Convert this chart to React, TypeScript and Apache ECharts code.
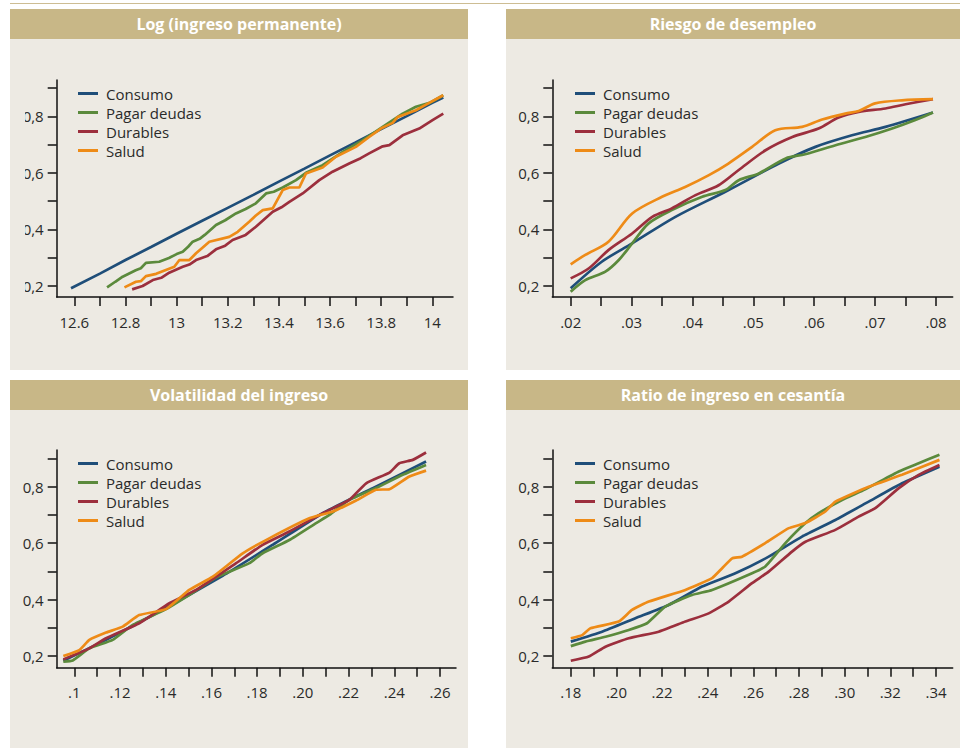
import { useEffect, useRef } from "react";
import * as echarts from "echarts";

type Pt = [number, number];

const seriesNames = ["Consumo", "Pagar deudas", "Durables", "Salud"];
const seriesColors = ["#1f4e79", "#5b8a3c", "#9c2f3d", "#ee8b17"];
const panelTitles = [
  "Log (ingreso permanente)",
  "Riesgo de desempleo",
  "Volatilidad del ingreso",
  "Ratio de ingreso en cesantía",
];

// Shared y axis
const yTicks = [0.2, 0.3, 0.4, 0.5, 0.6, 0.7, 0.8, 0.9];
const yLabelValues = [0.2, 0.4, 0.6, 0.8];
const yLabels = ["0,2", "0,4", "0,6", "0,8"];

// Panel 1: Log (ingreso permanente)
const p1XTicks = [12.6, 12.7, 12.8, 12.9, 13, 13.1, 13.2, 13.3, 13.4, 13.5, 13.6, 13.7, 13.8, 13.9, 14];
const p1XLabelValues = [12.6, 12.8, 13, 13.2, 13.4, 13.6, 13.8, 14];
const p1XLabels = ["12.6", "12.8", "13", "13.2", "13.4", "13.6", "13.8", "14"];
const p1Consumo: Pt[] = [
  [12.587, 0.191], [12.7, 0.243], [12.8, 0.291], [12.9, 0.337], [13.0, 0.384], [13.1, 0.43],
  [13.2, 0.476], [13.3, 0.522], [13.4, 0.569], [13.5, 0.615], [13.6, 0.662], [13.7, 0.708],
  [13.8, 0.755], [13.9, 0.801], [14.0, 0.848], [14.043, 0.867],
];
const p1Pagar: Pt[] = [
  [12.728, 0.194], [12.76, 0.214], [12.789, 0.232], [12.84, 0.255], [12.86, 0.262], [12.88, 0.281],
  [12.932, 0.285], [12.97, 0.298], [13.0, 0.312], [13.024, 0.32], [13.045, 0.338], [13.063, 0.356],
  [13.09, 0.366], [13.11, 0.38], [13.154, 0.415], [13.19, 0.432], [13.232, 0.456], [13.27, 0.472],
  [13.31, 0.492], [13.35, 0.527], [13.38, 0.533], [13.415, 0.548], [13.467, 0.574], [13.506, 0.6],
  [13.571, 0.627], [13.65, 0.674], [13.728, 0.716], [13.806, 0.763], [13.884, 0.81], [13.936, 0.834],
  [13.99, 0.848], [14.043, 0.875],
];
const p1Durables: Pt[] = [
  [12.826, 0.187], [12.867, 0.199], [12.907, 0.22], [12.94, 0.228], [12.971, 0.246], [13.024, 0.267],
  [13.05, 0.275], [13.076, 0.291], [13.12, 0.305], [13.154, 0.329], [13.19, 0.342], [13.219, 0.362],
  [13.27, 0.38], [13.31, 0.409], [13.376, 0.462], [13.41, 0.478], [13.441, 0.497], [13.493, 0.527],
  [13.558, 0.574], [13.61, 0.604], [13.675, 0.633], [13.72, 0.652], [13.753, 0.669], [13.806, 0.694],
  [13.832, 0.698], [13.884, 0.733], [13.949, 0.757], [14.001, 0.787], [14.043, 0.81],
];
const p1Salud: Pt[] = [
  [12.796, 0.194], [12.841, 0.214], [12.86, 0.216], [12.88, 0.234], [12.92, 0.242], [12.958, 0.256],
  [12.991, 0.267], [13.011, 0.291], [13.05, 0.291], [13.076, 0.315], [13.1, 0.334], [13.128, 0.356],
  [13.206, 0.373], [13.239, 0.391], [13.284, 0.427], [13.31, 0.449], [13.337, 0.468], [13.376, 0.474],
  [13.415, 0.539], [13.441, 0.548], [13.48, 0.548], [13.506, 0.598], [13.571, 0.619], [13.623, 0.657],
  [13.701, 0.692], [13.753, 0.727], [13.799, 0.757], [13.845, 0.777], [13.865, 0.798], [13.936, 0.822],
  [13.988, 0.848], [14.043, 0.875],
];

// Panel 2: Riesgo de desempleo
const p2XTicks = [0.02, 0.025, 0.03, 0.035, 0.04, 0.045, 0.05, 0.055, 0.06, 0.065, 0.07, 0.075, 0.08];
const p2XLabelValues = [0.02, 0.03, 0.04, 0.05, 0.06, 0.07, 0.08];
const p2XLabels = [".02", ".03", ".04", ".05", ".06", ".07", ".08"];
const p2Consumo: Pt[] = [
  [0.02, 0.191], [0.0251, 0.285], [0.0301, 0.35], [0.0372, 0.444], [0.0454, 0.533], [0.0542, 0.633],
  [0.0602, 0.692], [0.0662, 0.733], [0.0717, 0.763], [0.0795, 0.814],
];
const p2Pagar: Pt[] = [
  [0.02, 0.179], [0.0224, 0.22], [0.0257, 0.25], [0.0279, 0.291], [0.0301, 0.35], [0.0328, 0.421],
  [0.0366, 0.468], [0.0416, 0.515], [0.0454, 0.539], [0.0476, 0.574], [0.0509, 0.598], [0.0553, 0.651],
  [0.0585, 0.666], [0.0635, 0.698], [0.0684, 0.727], [0.0728, 0.757], [0.0766, 0.787], [0.0795, 0.814],
];
const p2Durables: Pt[] = [
  [0.02, 0.226], [0.023, 0.262], [0.0262, 0.326], [0.0301, 0.385], [0.0334, 0.444], [0.0366, 0.474],
  [0.0405, 0.521], [0.0443, 0.556], [0.0476, 0.61], [0.052, 0.68], [0.0564, 0.727], [0.0607, 0.757],
  [0.064, 0.796], [0.0673, 0.816], [0.0717, 0.828], [0.075, 0.843], [0.0795, 0.861],
];
const p2Salud: Pt[] = [
  [0.02, 0.276], [0.0224, 0.309], [0.0262, 0.356], [0.0301, 0.456], [0.035, 0.515], [0.0388, 0.55],
  [0.0427, 0.592], [0.0459, 0.633], [0.0498, 0.692], [0.0536, 0.751], [0.058, 0.763], [0.0613, 0.789],
  [0.0651, 0.81], [0.0673, 0.819], [0.07, 0.846], [0.0744, 0.857], [0.0795, 0.861],
];

// Panel 3: Volatilidad del ingreso
const p3XTicks = [0.1, 0.11, 0.12, 0.13, 0.14, 0.15, 0.16, 0.17, 0.18, 0.19, 0.2, 0.21, 0.22, 0.23, 0.24, 0.25, 0.26];
const p3XLabelValues = [0.1, 0.12, 0.14, 0.16, 0.18, 0.2, 0.22, 0.24, 0.26];
const p3XLabels = [".1", ".12", ".14", ".16", ".18", ".20", ".22", ".24", ".26"];
const p3Consumo: Pt[] = [
  [0.0952, 0.183], [0.1139, 0.257], [0.1358, 0.351], [0.1649, 0.484], [0.1868, 0.594],
  [0.2087, 0.706], [0.2306, 0.795], [0.2539, 0.889],
];
const p3Pagar: Pt[] = [
  [0.0952, 0.18], [0.0993, 0.184], [0.1066, 0.227], [0.1168, 0.257], [0.1256, 0.31], [0.1401, 0.366],
  [0.1533, 0.432], [0.162, 0.478], [0.1766, 0.529], [0.1824, 0.564], [0.1941, 0.611], [0.2058, 0.671],
  [0.2116, 0.7], [0.2203, 0.753], [0.232, 0.795], [0.2437, 0.842], [0.2539, 0.877],
];
const p3Durables: Pt[] = [
  [0.0952, 0.188], [0.1066, 0.227], [0.1139, 0.263], [0.1284, 0.316], [0.1416, 0.387], [0.1533, 0.434],
  [0.1708, 0.529], [0.1824, 0.594], [0.1941, 0.641], [0.2087, 0.706], [0.2203, 0.753], [0.2277, 0.812],
  [0.2379, 0.85], [0.2422, 0.883], [0.2481, 0.895], [0.2539, 0.921],
];
const p3Salud: Pt[] = [
  [0.0952, 0.2], [0.1022, 0.221], [0.1066, 0.257], [0.1139, 0.283], [0.1212, 0.304], [0.1284, 0.345],
  [0.1401, 0.366], [0.1503, 0.434], [0.1606, 0.481], [0.1737, 0.564], [0.1853, 0.617], [0.2028, 0.688],
  [0.2131, 0.712], [0.2233, 0.751], [0.232, 0.789], [0.2379, 0.791], [0.2466, 0.836], [0.2539, 0.857],
];

// Panel 4: Ratio de ingreso en cesantía
const p4XTicks = [0.18, 0.19, 0.2, 0.21, 0.22, 0.23, 0.24, 0.25, 0.26, 0.27, 0.28, 0.29, 0.3, 0.31, 0.32, 0.33, 0.34];
const p4XLabelValues = [0.18, 0.2, 0.22, 0.24, 0.26, 0.28, 0.3, 0.32, 0.34];
const p4XLabels = [".18", ".20", ".22", ".24", ".26", ".28", ".30", ".32", ".34"];
const p4Consumo: Pt[] = [
  [0.18, 0.251], [0.1937, 0.286], [0.2083, 0.334], [0.2229, 0.381], [0.2375, 0.446], [0.2521, 0.493],
  [0.2667, 0.552], [0.2813, 0.623], [0.2959, 0.682], [0.3105, 0.747], [0.3251, 0.812], [0.3415, 0.871],
];
const p4Pagar: Pt[] = [
  [0.18, 0.235], [0.1864, 0.251], [0.1952, 0.268], [0.2054, 0.292], [0.2134, 0.316], [0.2214, 0.375],
  [0.2331, 0.416], [0.2419, 0.434], [0.2594, 0.493], [0.2652, 0.517], [0.274, 0.6], [0.2828, 0.671],
  [0.2886, 0.706], [0.2988, 0.753], [0.309, 0.791], [0.3237, 0.854], [0.3324, 0.883], [0.3415, 0.913],
];
const p4Durables: Pt[] = [
  [0.18, 0.183], [0.1879, 0.198], [0.1952, 0.233], [0.2054, 0.263], [0.2185, 0.286], [0.2302, 0.322],
  [0.2404, 0.351], [0.2492, 0.393], [0.2594, 0.458], [0.2667, 0.499], [0.2769, 0.57], [0.2828, 0.605],
  [0.2959, 0.647], [0.3061, 0.694], [0.3134, 0.724], [0.3237, 0.795], [0.3324, 0.842], [0.3415, 0.877],
];
const p4Salud: Pt[] = [
  [0.18, 0.263], [0.185, 0.274], [0.1886, 0.298], [0.201, 0.322], [0.2068, 0.363], [0.2142, 0.393],
  [0.2302, 0.434], [0.2419, 0.476], [0.2463, 0.511], [0.2507, 0.546], [0.255, 0.552], [0.2652, 0.6],
  [0.2755, 0.653], [0.2828, 0.671], [0.2915, 0.712], [0.2959, 0.747], [0.3105, 0.8], [0.3251, 0.842],
  [0.3415, 0.895],
];

const FONT = "'Open Sans', 'Noto Sans', sans-serif";
const PANEL_BG = "#edeae3";
const TITLE_BG = "#c8b787";

const panels = [
  { bg: { x: 10, y: 9, w: 458, h: 361 }, grid: { left: 56.7, top: 80, width: 396.3, height: 217 }, xMin: 12.531, xMax: 14.081, yMin: 0.16, yMax: 0.929, xTicks: p1XTicks, xLabelValues: p1XLabelValues, xLabels: p1XLabels, data: [p1Consumo, p1Pagar, p1Durables, p1Salud], legend: { left: 78, top: 86 }, smooth: false },
  { bg: { x: 506, y: 9, w: 454, h: 361 }, grid: { left: 552.3, top: 80, width: 400.4, height: 217 }, xMin: 0.01698, xMax: 0.08274, yMin: 0.16, yMax: 0.929, xTicks: p2XTicks, xLabelValues: p2XLabelValues, xLabels: p2XLabels, data: [p2Consumo, p2Pagar, p2Durables, p2Salud], legend: { left: 575, top: 86 }, smooth: 0.3 },
  { bg: { x: 10, y: 380, w: 458, h: 368 }, grid: { left: 56.7, top: 450, width: 399.3, height: 217.7 }, xMin: 0.0923, xMax: 0.267, yMin: 0.1585, yMax: 0.93, xTicks: p3XTicks, xLabelValues: p3XLabelValues, xLabels: p3XLabels, data: [p3Consumo, p3Pagar, p3Durables, p3Salud], legend: { left: 78, top: 456 }, smooth: 0.15 },
  { bg: { x: 506, y: 380, w: 454, h: 368 }, grid: { left: 552.3, top: 450, width: 400.4, height: 217.7 }, xMin: 0.1719, xMax: 0.3473, yMin: 0.1585, yMax: 0.93, xTicks: p4XTicks, xLabelValues: p4XLabelValues, xLabels: p4XLabels, data: [p4Consumo, p4Pagar, p4Durables, p4Salud], legend: { left: 575, top: 456 }, smooth: 0.15 },
];

function labelFor(values: number[], labels: string[]) {
  return (v: number) => {
    const i = values.findIndex((l) => Math.abs(l - v) < 1e-6);
    return i >= 0 ? labels[i] : "";
  };
}

export default function App() {
  const ref = useRef<HTMLDivElement>(null);

  useEffect(() => {
    if (!ref.current) return;
    const chart = echarts.init(ref.current, null, { renderer: "svg" });
    const axisLine = { show: true, onZero: false, lineStyle: { color: "#111", width: 1.5 } };
    const option: any = {
      animation: false,
      backgroundColor: "transparent",
      grid: panels.map((p) => ({ ...p.grid, containLabel: false, outerBoundsMode: "none" })),
      xAxis: panels.map((p, i) => ({
        type: "value",
        gridIndex: i,
        min: p.xMin,
        max: p.xMax,
        axisLine,
        axisTick: { show: true, length: 9, customValues: p.xTicks, lineStyle: { color: "#111", width: 1.5 } },
        axisLabel: {
          customValues: p.xLabelValues,
          formatter: labelFor(p.xLabelValues, p.xLabels),
          margin: 17,
          fontSize: 15,
          color: "#2a2a2a",
          fontFamily: FONT,
        },
        splitLine: { show: false },
      })),
      yAxis: panels.map((p, i) => ({
        type: "value",
        gridIndex: i,
        min: p.yMin,
        max: p.yMax,
        axisLine,
        axisTick: { show: true, length: 9, customValues: yTicks, lineStyle: { color: "#111", width: 1.5 } },
        axisLabel: {
          customValues: yLabelValues,
          formatter: labelFor(yLabelValues, yLabels),
          margin: 13,
          fontSize: 15,
          color: "#2a2a2a",
          fontFamily: FONT,
        },
        splitLine: { show: false },
      })),
      legend: panels.map((p) => ({
        left: p.legend.left,
        top: p.legend.top,
        orient: "vertical",
        icon: "rect",
        itemWidth: 20,
        itemHeight: 3,
        itemGap: 4,
        padding: 0,
        selectedMode: false,
        textStyle: { fontSize: 15, lineHeight: 15, color: "#2a2a2a", fontFamily: FONT, padding: [0, 0, 0, 3] },
        data: seriesNames,
      })),
      series: panels.flatMap((p, i) =>
        p.data.map((d, k) => ({
          name: seriesNames[k],
          type: "line",
          xAxisIndex: i,
          yAxisIndex: i,
          data: d,
          smooth: p.smooth,
          showSymbol: false,
          symbol: "none",
          color: seriesColors[k],
          lineStyle: { width: 2.7, color: seriesColors[k] },
        }))
      ),
      graphic: [
        // hides the cut-off part of the top-left y labels, as in the source
        { type: "rect", z: 100, silent: true, shape: { x: 10, y: 100, width: 15, height: 200 }, style: { fill: PANEL_BG } },
        ...panels.map((p, i) => ({
          type: "text",
          z: 100,
          silent: true,
          x: p.bg.x + p.bg.w / 2,
          y: p.bg.y + 15,
          style: {
            text: panelTitles[i],
            fill: "#ffffff",
            font: `bold 16px ${FONT}`,
            textAlign: "center",
            textVerticalAlign: "middle",
          },
        })),
      ],
    };
    chart.setOption(option);
    return () => chart.dispose();
  }, []);

  return (
    <div style={{ position: "fixed", left: 0, top: 0, width: 960, height: 748, background: "#ffffff", overflow: "hidden" }}>
      <div style={{ position: "absolute", left: 10, top: 3, width: 950, height: 1, background: "#cdbd93" }} />
      {panels.map((p, i) => (
        <div key={i}>
          <div style={{ position: "absolute", left: p.bg.x, top: p.bg.y, width: p.bg.w, height: p.bg.h, background: PANEL_BG }} />
          <div style={{ position: "absolute", left: p.bg.x, top: p.bg.y, width: p.bg.w, height: 30, background: TITLE_BG }} />
        </div>
      ))}
      <div ref={ref} style={{ position: "absolute", left: 0, top: 0, width: 960, height: 748 }} />
    </div>
  );
}
